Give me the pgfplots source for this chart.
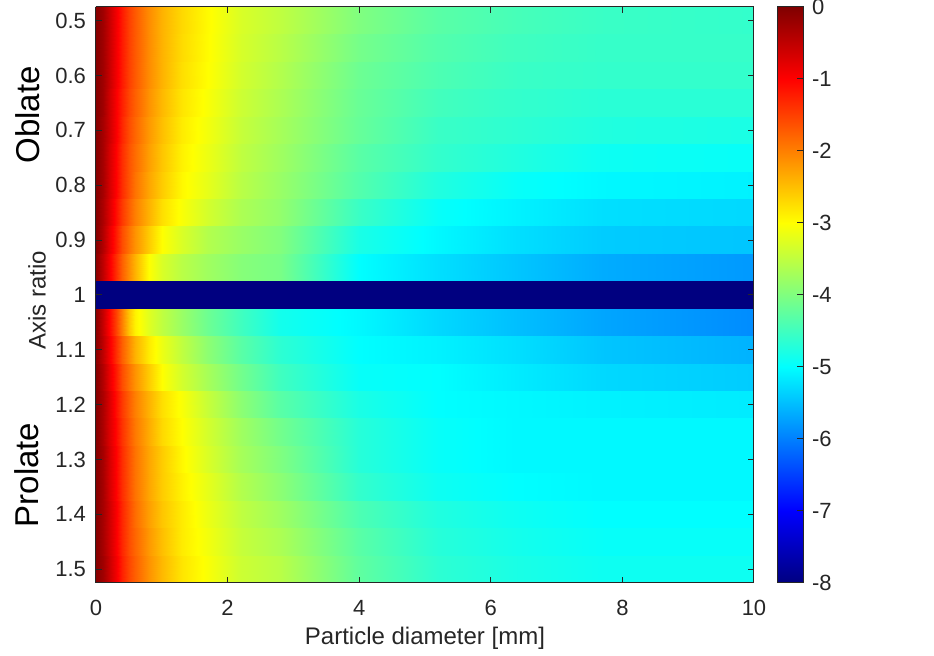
\documentclass[border=0pt]{standalone}
\usepackage{fontspec}
\setmainfont{Liberation Sans}
\usepackage{pgfplots}
\pgfplotsset{compat=1.18}
\definecolor{axgray}{gray}{0.15}
\begin{document}
\begin{tikzpicture}
\begin{axis}[
  width=329pt, height=288pt, scale only axis,
  view={0}{90},
  xmin=0, xmax=10, ymin=0.475, ymax=1.525,
  y dir=reverse,
  xtick={0,2,4,6,8,10},
  ytick={0.5,0.6,0.7,0.8,0.9,1,1.1,1.2,1.3,1.4,1.5},
  /pgf/number format/assume math mode=true,
  tick label style={font=\fontsize{11}{13}\selectfont, text=axgray},
  xticklabel style={anchor=center, yshift=-12.5pt},
  yticklabel style={xshift=-1.5pt},
  label style={font=\fontsize{12}{14}\selectfont, text=axgray},
  xlabel={Particle diameter [mm]},
  ylabel={Axis ratio},
  xlabel style={at={(axis description cs:0.5,-0.0955)}, anchor=center},
  ylabel style={at={(axis description cs:-0.0897,0.491)}, anchor=center},
  tick align=inside, major tick length=3pt,
  tick style={axgray, line width=0.5pt},
  axis line style={axgray, line width=0.5pt},
  axis on top,
  colormap/jet, point meta min=-8, point meta max=0,
  colorbar,
  colorbar style={
    at={(parent axis.north east)}, anchor=north west, xshift=3pt,
    width=13pt,
    ytick={-8,-7,-6,-5,-4,-3,-2,-1,0},
    ytick pos=right,
    tick align=inside, major tick length=3pt,
    /pgf/number format/assume math mode=true,
    yticklabel style={font=\fontsize{11}{13}\selectfont, text=axgray, xshift=1pt},
    axis line style={axgray, line width=0.5pt},
    tick style={axgray, line width=0.5pt},
  },
]
% oblate block: rows 0.50 ... 0.95, each row given twice (top and bottom cell edge)
\addplot3[surf, shader=interp, mesh/cols=18] coordinates {
(0,0.475,-0.05) (0.1,0.475,-0.25) (0.2,0.475,-0.55) (0.3,0.475,-0.9) (0.4,0.475,-1.2) (0.5,0.475,-1.5) (0.6,0.475,-1.7) (0.8,0.475,-2.1) (1.0,0.475,-2.4) (1.3,0.475,-2.7) (1.7,0.475,-2.97) (2.2,0.475,-3.3) (2.8,0.475,-3.5) (4.0,0.475,-4.0) (5.2,0.475,-4.3) (6.4,0.475,-4.45) (7.7,0.475,-4.55) (10,0.475,-4.6)
(0,0.525,-0.05) (0.1,0.525,-0.25) (0.2,0.525,-0.55) (0.3,0.525,-0.9) (0.4,0.525,-1.2) (0.5,0.525,-1.5) (0.6,0.525,-1.7) (0.8,0.525,-2.1) (1.0,0.525,-2.4) (1.3,0.525,-2.7) (1.7,0.525,-2.97) (2.2,0.525,-3.3) (2.8,0.525,-3.5) (4.0,0.525,-4.0) (5.2,0.525,-4.3) (6.4,0.525,-4.45) (7.7,0.525,-4.55) (10,0.525,-4.6)
(0,0.525,-0.05) (0.1,0.525,-0.25) (0.2,0.525,-0.55) (0.3,0.525,-0.9) (0.4,0.525,-1.2) (0.5,0.525,-1.5) (0.6,0.525,-1.7) (0.8,0.525,-2.1) (1.0,0.525,-2.4) (1.3,0.525,-2.72) (1.7,0.525,-2.98) (2.2,0.525,-3.32) (2.8,0.525,-3.55) (4.0,0.525,-4.08) (5.2,0.525,-4.35) (6.4,0.525,-4.5) (7.7,0.525,-4.58) (10,0.525,-4.58)
(0,0.575,-0.05) (0.1,0.575,-0.25) (0.2,0.575,-0.55) (0.3,0.575,-0.9) (0.4,0.575,-1.2) (0.5,0.575,-1.5) (0.6,0.575,-1.7) (0.8,0.575,-2.1) (1.0,0.575,-2.4) (1.3,0.575,-2.72) (1.7,0.575,-2.98) (2.2,0.575,-3.32) (2.8,0.575,-3.55) (4.0,0.575,-4.08) (5.2,0.575,-4.35) (6.4,0.575,-4.5) (7.7,0.575,-4.58) (10,0.575,-4.58)
(0,0.575,-0.05) (0.1,0.575,-0.25) (0.2,0.575,-0.55) (0.3,0.575,-0.9) (0.4,0.575,-1.2) (0.5,0.575,-1.5) (0.6,0.575,-1.7) (0.8,0.575,-2.1) (1.0,0.575,-2.4) (1.3,0.575,-2.75) (1.7,0.575,-3.0) (2.2,0.575,-3.35) (2.8,0.575,-3.6) (4.0,0.575,-4.15) (5.2,0.575,-4.4) (6.4,0.575,-4.55) (7.7,0.575,-4.6) (10,0.575,-4.6)
(0,0.625,-0.05) (0.1,0.625,-0.25) (0.2,0.625,-0.55) (0.3,0.625,-0.9) (0.4,0.625,-1.2) (0.5,0.625,-1.5) (0.6,0.625,-1.7) (0.8,0.625,-2.1) (1.0,0.625,-2.4) (1.3,0.625,-2.75) (1.7,0.625,-3.0) (2.2,0.625,-3.35) (2.8,0.625,-3.6) (4.0,0.625,-4.15) (5.2,0.625,-4.4) (6.4,0.625,-4.55) (7.7,0.625,-4.6) (10,0.625,-4.6)
(0,0.625,-0.05) (0.1,0.625,-0.25) (0.2,0.625,-0.6) (0.3,0.625,-0.95) (0.4,0.625,-1.25) (0.5,0.625,-1.55) (0.6,0.625,-1.75) (0.8,0.625,-2.15) (1.0,0.625,-2.45) (1.3,0.625,-2.8) (1.7,0.625,-3.05) (2.2,0.625,-3.4) (2.8,0.625,-3.65) (4.0,0.625,-4.18) (5.2,0.625,-4.48) (6.4,0.625,-4.6) (7.7,0.625,-4.68) (10,0.625,-4.68)
(0,0.675,-0.05) (0.1,0.675,-0.25) (0.2,0.675,-0.6) (0.3,0.675,-0.95) (0.4,0.675,-1.25) (0.5,0.675,-1.55) (0.6,0.675,-1.75) (0.8,0.675,-2.15) (1.0,0.675,-2.45) (1.3,0.675,-2.8) (1.7,0.675,-3.05) (2.2,0.675,-3.4) (2.8,0.675,-3.65) (4.0,0.675,-4.18) (5.2,0.675,-4.48) (6.4,0.675,-4.6) (7.7,0.675,-4.68) (10,0.675,-4.68)
(0,0.675,-0.05) (0.1,0.675,-0.3) (0.2,0.675,-0.6) (0.3,0.675,-0.95) (0.4,0.675,-1.3) (0.5,0.675,-1.6) (0.6,0.675,-1.8) (0.8,0.675,-2.2) (1.0,0.675,-2.5) (1.3,0.675,-2.85) (1.7,0.675,-3.1) (2.2,0.675,-3.45) (2.8,0.675,-3.7) (4.0,0.675,-4.2) (5.2,0.675,-4.55) (6.4,0.675,-4.65) (7.7,0.675,-4.75) (10,0.675,-4.8)
(0,0.725,-0.05) (0.1,0.725,-0.3) (0.2,0.725,-0.6) (0.3,0.725,-0.95) (0.4,0.725,-1.3) (0.5,0.725,-1.6) (0.6,0.725,-1.8) (0.8,0.725,-2.2) (1.0,0.725,-2.5) (1.3,0.725,-2.85) (1.7,0.725,-3.1) (2.2,0.725,-3.45) (2.8,0.725,-3.7) (4.0,0.725,-4.2) (5.2,0.725,-4.55) (6.4,0.725,-4.65) (7.7,0.725,-4.75) (10,0.725,-4.8)
(0,0.725,-0.05) (0.1,0.725,-0.3) (0.2,0.725,-0.65) (0.3,0.725,-1.0) (0.4,0.725,-1.35) (0.5,0.725,-1.65) (0.6,0.725,-1.85) (0.8,0.725,-2.25) (1.0,0.725,-2.55) (1.3,0.725,-2.9) (1.7,0.725,-3.15) (2.2,0.725,-3.5) (2.8,0.725,-3.75) (4.0,0.725,-4.3) (5.2,0.725,-4.6) (6.4,0.725,-4.75) (7.7,0.725,-4.9) (10,0.725,-4.95)
(0,0.775,-0.05) (0.1,0.775,-0.3) (0.2,0.775,-0.65) (0.3,0.775,-1.0) (0.4,0.775,-1.35) (0.5,0.775,-1.65) (0.6,0.775,-1.85) (0.8,0.775,-2.25) (1.0,0.775,-2.55) (1.3,0.775,-2.9) (1.7,0.775,-3.15) (2.2,0.775,-3.5) (2.8,0.775,-3.75) (4.0,0.775,-4.3) (5.2,0.775,-4.6) (6.4,0.775,-4.75) (7.7,0.775,-4.9) (10,0.775,-4.95)
(0,0.775,-0.05) (0.1,0.775,-0.3) (0.2,0.775,-0.65) (0.3,0.775,-1.0) (0.4,0.775,-1.35) (0.5,0.775,-1.65) (0.6,0.775,-1.9) (0.8,0.775,-2.3) (1.0,0.775,-2.6) (1.3,0.775,-2.95) (1.7,0.775,-3.2) (2.2,0.775,-3.55) (2.8,0.775,-3.8) (4.0,0.775,-4.35) (5.2,0.775,-4.75) (6.4,0.775,-4.95) (7.7,0.775,-5.05) (10,0.775,-5.1)
(0,0.825,-0.05) (0.1,0.825,-0.3) (0.2,0.825,-0.65) (0.3,0.825,-1.0) (0.4,0.825,-1.35) (0.5,0.825,-1.65) (0.6,0.825,-1.9) (0.8,0.825,-2.3) (1.0,0.825,-2.6) (1.3,0.825,-2.95) (1.7,0.825,-3.2) (2.2,0.825,-3.55) (2.8,0.825,-3.8) (4.0,0.825,-4.35) (5.2,0.825,-4.75) (6.4,0.825,-4.95) (7.7,0.825,-5.05) (10,0.825,-5.1)
(0,0.825,-0.05) (0.1,0.825,-0.35) (0.2,0.825,-0.7) (0.3,0.825,-1.1) (0.4,0.825,-1.45) (0.5,0.825,-1.75) (0.6,0.825,-2.0) (0.8,0.825,-2.4) (1.0,0.825,-2.75) (1.3,0.825,-3.05) (1.7,0.825,-3.35) (2.2,0.825,-3.65) (2.8,0.825,-3.85) (4.0,0.825,-4.55) (5.2,0.825,-4.95) (6.4,0.825,-5.1) (7.7,0.825,-5.25) (10,0.825,-5.3)
(0,0.875,-0.05) (0.1,0.875,-0.35) (0.2,0.875,-0.7) (0.3,0.875,-1.1) (0.4,0.875,-1.45) (0.5,0.875,-1.75) (0.6,0.875,-2.0) (0.8,0.875,-2.4) (1.0,0.875,-2.75) (1.3,0.875,-3.05) (1.7,0.875,-3.35) (2.2,0.875,-3.65) (2.8,0.875,-3.85) (4.0,0.875,-4.55) (5.2,0.875,-4.95) (6.4,0.875,-5.1) (7.7,0.875,-5.25) (10,0.875,-5.3)
(0,0.875,-0.05) (0.1,0.875,-0.4) (0.2,0.875,-0.8) (0.3,0.875,-1.2) (0.4,0.875,-1.6) (0.5,0.875,-1.9) (0.6,0.875,-2.15) (0.8,0.875,-2.6) (1.0,0.875,-3.0) (1.3,0.875,-3.3) (1.7,0.875,-3.6) (2.2,0.875,-3.8) (2.8,0.875,-3.98) (4.0,0.875,-4.8) (5.2,0.875,-5.05) (6.4,0.875,-5.25) (7.7,0.875,-5.4) (10,0.875,-5.45)
(0,0.925,-0.05) (0.1,0.925,-0.4) (0.2,0.925,-0.8) (0.3,0.925,-1.2) (0.4,0.925,-1.6) (0.5,0.925,-1.9) (0.6,0.925,-2.15) (0.8,0.925,-2.6) (1.0,0.925,-3.0) (1.3,0.925,-3.3) (1.7,0.925,-3.6) (2.2,0.925,-3.8) (2.8,0.925,-3.98) (4.0,0.925,-4.8) (5.2,0.925,-5.05) (6.4,0.925,-5.25) (7.7,0.925,-5.4) (10,0.925,-5.45)
(0,0.925,-0.1) (0.1,0.925,-0.5) (0.2,0.925,-0.9) (0.3,0.925,-1.35) (0.4,0.925,-1.75) (0.5,0.925,-2.1) (0.6,0.925,-2.4) (0.8,0.925,-3.0) (1.0,0.925,-3.3) (1.3,0.925,-3.55) (1.7,0.925,-3.75) (2.2,0.925,-3.95) (2.8,0.925,-4.05) (4.0,0.925,-5.0) (5.2,0.925,-5.25) (6.4,0.925,-5.45) (7.7,0.925,-5.65) (10,0.925,-5.8)
(0,0.975,-0.1) (0.1,0.975,-0.5) (0.2,0.975,-0.9) (0.3,0.975,-1.35) (0.4,0.975,-1.75) (0.5,0.975,-2.1) (0.6,0.975,-2.4) (0.8,0.975,-3.0) (1.0,0.975,-3.3) (1.3,0.975,-3.55) (1.7,0.975,-3.75) (2.2,0.975,-3.95) (2.8,0.975,-4.05) (4.0,0.975,-5.0) (5.2,0.975,-5.25) (6.4,0.975,-5.45) (7.7,0.975,-5.65) (10,0.975,-5.8)
};
% sphere row, axis ratio 1
\addplot3[surf, shader=flat, mesh/cols=2] coordinates {
(0,0.975,-8) (10,0.975,-8)
(0,1.025,-8) (10,1.025,-8)
};
% prolate block: rows 1.05 ... 1.50
\addplot3[surf, shader=interp, mesh/cols=18] coordinates {
(0,1.025,-0.1) (0.1,1.025,-0.55) (0.2,1.025,-1.0) (0.3,1.025,-1.5) (0.4,1.025,-2.0) (0.5,1.025,-2.55) (0.6,1.025,-2.9) (0.8,1.025,-3.25) (1.0,1.025,-3.5) (1.3,1.025,-3.8) (1.7,1.025,-4.15) (2.2,1.025,-4.5) (2.8,1.025,-4.85) (4.0,1.025,-5.05) (5.2,1.025,-5.3) (6.4,1.025,-5.5) (7.7,1.025,-5.7) (10,1.025,-5.9)
(0,1.075,-0.1) (0.1,1.075,-0.55) (0.2,1.075,-1.0) (0.3,1.075,-1.5) (0.4,1.075,-2.0) (0.5,1.075,-2.55) (0.6,1.075,-2.9) (0.8,1.075,-3.25) (1.0,1.075,-3.5) (1.3,1.075,-3.8) (1.7,1.075,-4.15) (2.2,1.075,-4.5) (2.8,1.075,-4.85) (4.0,1.075,-5.05) (5.2,1.075,-5.3) (6.4,1.075,-5.5) (7.7,1.075,-5.7) (10,1.075,-5.9)
(0,1.075,-0.1) (0.1,1.075,-0.5) (0.2,1.075,-0.9) (0.3,1.075,-1.35) (0.4,1.075,-1.75) (0.5,1.075,-2.1) (0.6,1.075,-2.4) (0.8,1.075,-2.85) (1.0,1.075,-3.15) (1.3,1.075,-3.5) (1.7,1.075,-3.9) (2.2,1.075,-4.3) (2.8,1.075,-4.65) (4.0,1.075,-5.0) (5.2,1.075,-5.1) (6.4,1.075,-5.25) (7.7,1.075,-5.45) (10,1.075,-5.6)
(0,1.125,-0.1) (0.1,1.125,-0.5) (0.2,1.125,-0.9) (0.3,1.125,-1.35) (0.4,1.125,-1.75) (0.5,1.125,-2.1) (0.6,1.125,-2.4) (0.8,1.125,-2.85) (1.0,1.125,-3.15) (1.3,1.125,-3.5) (1.7,1.125,-3.9) (2.2,1.125,-4.3) (2.8,1.125,-4.65) (4.0,1.125,-5.0) (5.2,1.125,-5.1) (6.4,1.125,-5.25) (7.7,1.125,-5.45) (10,1.125,-5.6)
(0,1.125,-0.05) (0.1,1.125,-0.4) (0.2,1.125,-0.8) (0.3,1.125,-1.2) (0.4,1.125,-1.6) (0.5,1.125,-1.9) (0.6,1.125,-2.15) (0.8,1.125,-2.6) (1.0,1.125,-3.0) (1.3,1.125,-3.35) (1.7,1.125,-3.7) (2.2,1.125,-4.1) (2.8,1.125,-4.5) (4.0,1.125,-4.95) (5.2,1.125,-5.0) (6.4,1.125,-5.15) (7.7,1.125,-5.3) (10,1.125,-5.4)
(0,1.175,-0.05) (0.1,1.175,-0.4) (0.2,1.175,-0.8) (0.3,1.175,-1.2) (0.4,1.175,-1.6) (0.5,1.175,-1.9) (0.6,1.175,-2.15) (0.8,1.175,-2.6) (1.0,1.175,-3.0) (1.3,1.175,-3.35) (1.7,1.175,-3.7) (2.2,1.175,-4.1) (2.8,1.175,-4.5) (4.0,1.175,-4.95) (5.2,1.175,-5.0) (6.4,1.175,-5.15) (7.7,1.175,-5.3) (10,1.175,-5.4)
(0,1.175,-0.05) (0.1,1.175,-0.35) (0.2,1.175,-0.7) (0.3,1.175,-1.1) (0.4,1.175,-1.45) (0.5,1.175,-1.75) (0.6,1.175,-2.0) (0.8,1.175,-2.4) (1.0,1.175,-2.75) (1.3,1.175,-3.05) (1.7,1.175,-3.45) (2.2,1.175,-3.9) (2.8,1.175,-4.3) (4.0,1.175,-4.8) (5.2,1.175,-5.0) (6.4,1.175,-5.05) (7.7,1.175,-5.1) (10,1.175,-5.15)
(0,1.225,-0.05) (0.1,1.225,-0.35) (0.2,1.225,-0.7) (0.3,1.225,-1.1) (0.4,1.225,-1.45) (0.5,1.225,-1.75) (0.6,1.225,-2.0) (0.8,1.225,-2.4) (1.0,1.225,-2.75) (1.3,1.225,-3.05) (1.7,1.225,-3.45) (2.2,1.225,-3.9) (2.8,1.225,-4.3) (4.0,1.225,-4.8) (5.2,1.225,-5.0) (6.4,1.225,-5.05) (7.7,1.225,-5.1) (10,1.225,-5.15)
(0,1.225,-0.05) (0.1,1.225,-0.35) (0.2,1.225,-0.7) (0.3,1.225,-1.05) (0.4,1.225,-1.4) (0.5,1.225,-1.7) (0.6,1.225,-1.95) (0.8,1.225,-2.35) (1.0,1.225,-2.7) (1.3,1.225,-3.0) (1.7,1.225,-3.35) (2.2,1.225,-3.75) (2.8,1.225,-4.1) (4.0,1.225,-4.7) (5.2,1.225,-4.95) (6.4,1.225,-5.05) (7.7,1.225,-5.05) (10,1.225,-5.05)
(0,1.275,-0.05) (0.1,1.275,-0.35) (0.2,1.275,-0.7) (0.3,1.275,-1.05) (0.4,1.275,-1.4) (0.5,1.275,-1.7) (0.6,1.275,-1.95) (0.8,1.275,-2.35) (1.0,1.275,-2.7) (1.3,1.275,-3.0) (1.7,1.275,-3.35) (2.2,1.275,-3.75) (2.8,1.275,-4.1) (4.0,1.275,-4.7) (5.2,1.275,-4.95) (6.4,1.275,-5.05) (7.7,1.275,-5.05) (10,1.275,-5.05)
(0,1.275,-0.05) (0.1,1.275,-0.3) (0.2,1.275,-0.65) (0.3,1.275,-1.0) (0.4,1.275,-1.35) (0.5,1.275,-1.65) (0.6,1.275,-1.9) (0.8,1.275,-2.3) (1.0,1.275,-2.6) (1.3,1.275,-2.95) (1.7,1.275,-3.3) (2.2,1.275,-3.7) (2.8,1.275,-4.0) (4.0,1.275,-4.7) (5.2,1.275,-4.95) (6.4,1.275,-5.05) (7.7,1.275,-5.05) (10,1.275,-5.05)
(0,1.325,-0.05) (0.1,1.325,-0.3) (0.2,1.325,-0.65) (0.3,1.325,-1.0) (0.4,1.325,-1.35) (0.5,1.325,-1.65) (0.6,1.325,-1.9) (0.8,1.325,-2.3) (1.0,1.325,-2.6) (1.3,1.325,-2.95) (1.7,1.325,-3.3) (2.2,1.325,-3.7) (2.8,1.325,-4.0) (4.0,1.325,-4.7) (5.2,1.325,-4.95) (6.4,1.325,-5.05) (7.7,1.325,-5.05) (10,1.325,-5.05)
(0,1.325,-0.05) (0.1,1.325,-0.3) (0.2,1.325,-0.65) (0.3,1.325,-1.0) (0.4,1.325,-1.35) (0.5,1.325,-1.65) (0.6,1.325,-1.9) (0.8,1.325,-2.3) (1.0,1.325,-2.6) (1.3,1.325,-2.9) (1.7,1.325,-3.2) (2.2,1.325,-3.6) (2.8,1.325,-3.9) (4.0,1.325,-4.6) (5.2,1.325,-4.9) (6.4,1.325,-5.0) (7.7,1.325,-5.05) (10,1.325,-5.05)
(0,1.375,-0.05) (0.1,1.375,-0.3) (0.2,1.375,-0.65) (0.3,1.375,-1.0) (0.4,1.375,-1.35) (0.5,1.375,-1.65) (0.6,1.375,-1.9) (0.8,1.375,-2.3) (1.0,1.375,-2.6) (1.3,1.375,-2.9) (1.7,1.375,-3.2) (2.2,1.375,-3.6) (2.8,1.375,-3.9) (4.0,1.375,-4.6) (5.2,1.375,-4.9) (6.4,1.375,-5.0) (7.7,1.375,-5.05) (10,1.375,-5.05)
(0,1.375,-0.05) (0.1,1.375,-0.3) (0.2,1.375,-0.6) (0.3,1.375,-0.95) (0.4,1.375,-1.3) (0.5,1.375,-1.6) (0.6,1.375,-1.85) (0.8,1.375,-2.25) (1.0,1.375,-2.55) (1.3,1.375,-2.85) (1.7,1.375,-3.15) (2.2,1.375,-3.5) (2.8,1.375,-3.75) (4.0,1.375,-4.4) (5.2,1.375,-4.75) (6.4,1.375,-4.9) (7.7,1.375,-5.0) (10,1.375,-5.0)
(0,1.425,-0.05) (0.1,1.425,-0.3) (0.2,1.425,-0.6) (0.3,1.425,-0.95) (0.4,1.425,-1.3) (0.5,1.425,-1.6) (0.6,1.425,-1.85) (0.8,1.425,-2.25) (1.0,1.425,-2.55) (1.3,1.425,-2.85) (1.7,1.425,-3.15) (2.2,1.425,-3.5) (2.8,1.425,-3.75) (4.0,1.425,-4.4) (5.2,1.425,-4.75) (6.4,1.425,-4.9) (7.7,1.425,-5.0) (10,1.425,-5.0)
(0,1.425,-0.05) (0.1,1.425,-0.3) (0.2,1.425,-0.6) (0.3,1.425,-0.95) (0.4,1.425,-1.3) (0.5,1.425,-1.6) (0.6,1.425,-1.8) (0.8,1.425,-2.2) (1.0,1.425,-2.5) (1.3,1.425,-2.85) (1.7,1.425,-3.1) (2.2,1.425,-3.45) (2.8,1.425,-3.65) (4.0,1.425,-4.3) (5.2,1.425,-4.7) (6.4,1.425,-4.85) (7.7,1.425,-4.95) (10,1.425,-4.95)
(0,1.475,-0.05) (0.1,1.475,-0.3) (0.2,1.475,-0.6) (0.3,1.475,-0.95) (0.4,1.475,-1.3) (0.5,1.475,-1.6) (0.6,1.475,-1.8) (0.8,1.475,-2.2) (1.0,1.475,-2.5) (1.3,1.475,-2.85) (1.7,1.475,-3.1) (2.2,1.475,-3.45) (2.8,1.475,-3.65) (4.0,1.475,-4.3) (5.2,1.475,-4.7) (6.4,1.475,-4.85) (7.7,1.475,-4.95) (10,1.475,-4.95)
(0,1.475,-0.05) (0.1,1.475,-0.25) (0.2,1.475,-0.55) (0.3,1.475,-0.9) (0.4,1.475,-1.25) (0.5,1.475,-1.55) (0.6,1.475,-1.75) (0.8,1.475,-2.15) (1.0,1.475,-2.45) (1.3,1.475,-2.8) (1.7,1.475,-3.05) (2.2,1.475,-3.4) (2.8,1.475,-3.55) (4.0,1.475,-4.25) (5.2,1.475,-4.65) (6.4,1.475,-4.8) (7.7,1.475,-4.9) (10,1.475,-4.9)
(0,1.525,-0.05) (0.1,1.525,-0.25) (0.2,1.525,-0.55) (0.3,1.525,-0.9) (0.4,1.525,-1.25) (0.5,1.525,-1.55) (0.6,1.525,-1.75) (0.8,1.525,-2.15) (1.0,1.525,-2.45) (1.3,1.525,-2.8) (1.7,1.525,-3.05) (2.2,1.525,-3.4) (2.8,1.525,-3.55) (4.0,1.525,-4.25) (5.2,1.525,-4.65) (6.4,1.525,-4.8) (7.7,1.525,-4.9) (10,1.525,-4.9)
};
\end{axis}
\node[rotate=90, font=\fontsize{16.5}{19}\selectfont, text=black] at (-34pt,234pt) {Oblate};
\node[rotate=90, font=\fontsize{16.5}{19}\selectfont, text=black] at (-34.5pt,54pt) {Prolate};
\pgfresetboundingbox
\path (-48pt,-36.5pt) rectangle (419pt,291.5pt);
\end{tikzpicture}
\end{document}
